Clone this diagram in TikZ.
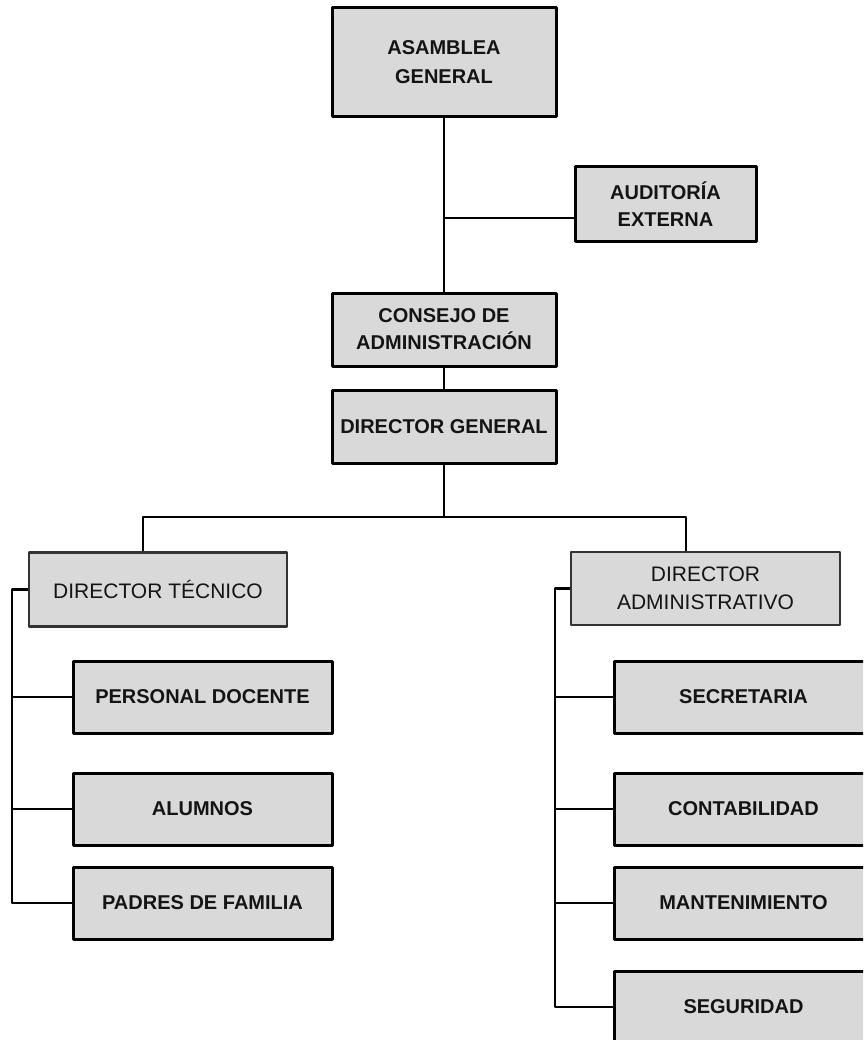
\documentclass[tikz,border=0pt]{standalone}
\usepackage{fontspec}
\setmainfont{Liberation Sans}
\usepackage{tikz}
\usetikzlibrary{positioning,calc}
\definecolor{boxgray}{HTML}{D9D9D9}
\definecolor{inkgray}{HTML}{141414}

\begin{document}
\begin{tikzpicture}[x=1pt,y=-1pt,line join=round,
    font=\fontsize{20}{27}\selectfont,
    unit/.style={draw=black,line width=3pt,fill=boxgray,text=inkgray,
      align=center,inner sep=0pt,font=\fontsize{20}{27}\selectfont\bfseries},
    head/.style={unit,minimum width=224pt,minimum height=73pt},
    dept/.style={draw=black!80,line width=2.2pt,fill=boxgray,text=inkgray,
      align=center,inner sep=0pt,minimum height=74pt,
      font=\fontsize{21}{28}\selectfont},
    leaf/.style={unit,minimum width=259pt,minimum height=72pt},
    link/.style={line width=2.8pt}]
  \useasboundingbox (0,0) rectangle (863,1040);
  \clip (0,0) rectangle (863,1040);
  % top of the chart
  \node[head,minimum height=109pt,font=\fontsize{20}{29}\selectfont\bfseries] (asamblea) at (444,62.5) {ASAMBLEA\\GENERAL};
  \node[unit,minimum width=181pt,minimum height=75pt] (auditoria) at (665.5,204.5) {AUDITORÍA\\EXTERNA};
  \node[head] (consejo) at (444,329.5) {CONSEJO DE\\ADMINISTRACIÓN};
  \node[head] (dgeneral) at (444,426.5) {DIRECTOR GENERAL};
  % the two directions
  \node[dept,minimum width=258pt] (dtecnico) at (158,589.5) {DIRECTOR TÉCNICO};
  \node[dept,minimum width=269pt,minimum height=73pt] (dadmin) at (705.5,588.5) {DIRECTOR\\ADMINISTRATIVO};
  % technical side
  \node[leaf] (docente) at (202.5,697) {PERSONAL DOCENTE};
  \node[leaf] (alumnos) at (202.5,809) {ALUMNOS};
  \node[leaf] (padres) at (202.5,903) {PADRES DE FAMILIA};
  % administrative side
  \node[leaf] (secretaria) at (743.5,697) {SECRETARIA};
  \node[leaf] (contabilidad) at (743.5,809) {CONTABILIDAD};
  \node[leaf] (mantenimiento) at (743.5,903) {MANTENIMIENTO};
  \node[leaf] (seguridad) at (743.5,1007) {SEGURIDAD};

  \coordinate (aud) at ([yshift=-13.5pt]auditoria.west);
  \coordinate (fork) at (444,517);
  \coordinate (lt) at ([xshift=-15pt]dtecnico.north);
  \coordinate (rt) at ([xshift=-19.5pt]dadmin.north);
  \coordinate (lbus) at ([xshift=-16pt]dtecnico.west);
  \coordinate (rbus) at ([xshift=-15pt]dadmin.west);

  \draw[link] (asamblea.south) -- (consejo.north);
  \draw[link] (aud) -- (aud -| asamblea.south);
  \draw[link] (consejo.south) -- (dgeneral.north);
  \draw[link] (dgeneral.south) -- (fork);
  \draw[link] (lt) |- (fork) -| (rt);
  \draw[link] (dtecnico.west) -- (lbus) |- (padres.west);
  \foreach \n in {docente,alumnos}
    \draw[link] (\n.west) -- (\n.west -| lbus);
  \draw[link] (dadmin.west) -- (rbus) |- (seguridad.west);
  \foreach \n in {secretaria,contabilidad,mantenimiento}
    \draw[link] (\n.west) -- (\n.west -| rbus);
\end{tikzpicture}
\end{document}
